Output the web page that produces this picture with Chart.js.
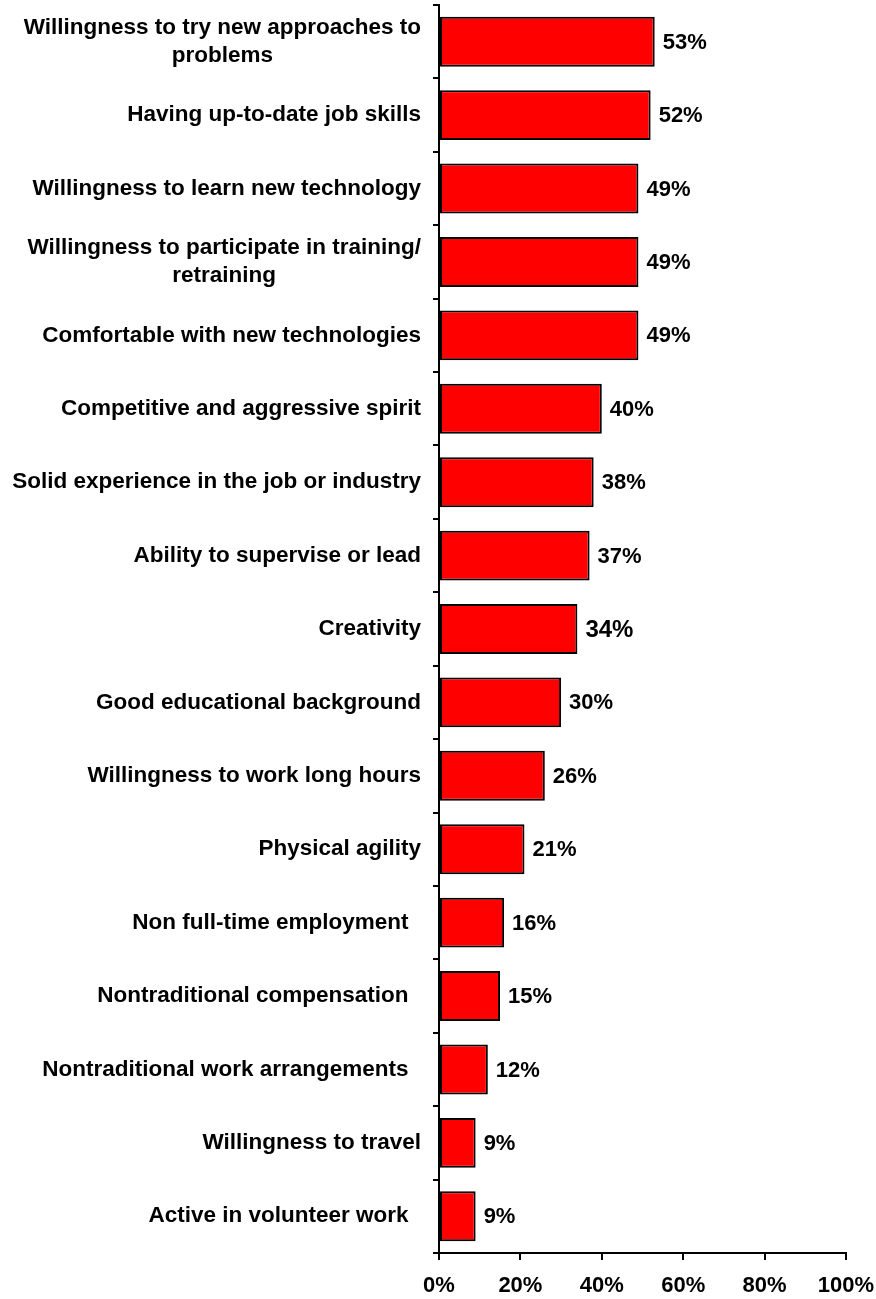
<!DOCTYPE html>
<html>
<head>
<meta charset="utf-8">
<script src="https://cdn.jsdelivr.net/npm/chart.js@4/dist/chart.umd.min.js"></script>
<style>
  html, body { margin: 0; padding: 0; background: #fff; }
  #wrap { width: 876px; height: 1299px; }
</style>
</head>
<body>
<div id="wrap"><canvas id="skills" width="876" height="1299"></canvas></div>
<script>
// Kategórie (viacriadkové popisky ako polia riadkov)
const categories = [
    ['Willingness to try new approaches to', 'problems'],
    'Having up-to-date job skills',
    'Willingness to learn new technology',
    ['Willingness to participate in training/', 'retraining'],
    'Comfortable with new technologies',
    'Competitive and aggressive spirit',
    'Solid experience in the job or industry',
    'Ability to supervise or lead',
    'Creativity',
    'Good educational background',
    'Willingness to work long hours',
    'Physical agility',
    'Non full-time employment  ',
    'Nontraditional compensation  ',
    'Nontraditional work arrangements  ',
    'Willingness to travel',
    'Active in volunteer work  '
];

// Percentá
const shares = [53, 52, 49, 49, 49, 40, 38, 37, 34, 30, 26, 21, 16, 15, 12, 9, 9];

// Osi X
const xTicks = [0, 20, 40, 60, 80, 100];

const FONT = '"Liberation Sans", Arial, sans-serif';

// Popisky kategórií – vycentrované riadky, zarovnané doprava k osi
const categoryLabels = {
    id: 'categoryLabels',
    afterDraw(chart) {
        const ctx = chart.ctx;
        const yScale = chart.scales.y;
        const rightEdge = yScale.right - 18;
        const lineH = 28;
        ctx.save();
        ctx.font = `bold 22.5px ${FONT}`;
        ctx.fillStyle = '#000';
        ctx.textAlign = 'center';
        ctx.textBaseline = 'middle';
        categories.forEach((label, i) => {
            const lines = Array.isArray(label) ? label : [label];
            const maxW = Math.max(...lines.map(l => ctx.measureText(l).width));
            const cx = rightEdge - maxW / 2;
            const cy = yScale.getPixelForValue(i);
            lines.forEach((line, j) => {
                const y = cy + (j - (lines.length - 1) / 2) * lineH;
                ctx.fillText(line, cx, y);
            });
        });
        ctx.restore();
    }
};

// Hodnoty za koncom stĺpcov
const valueLabels = {
    id: 'valueLabels',
    afterDatasetsDraw(chart) {
        const ctx = chart.ctx;
        const meta = chart.getDatasetMeta(0);
        ctx.save();
        ctx.fillStyle = '#000';
        ctx.textAlign = 'left';
        ctx.textBaseline = 'middle';
        meta.data.forEach((bar, i) => {
            // "Creativity" má o niečo väčšie písmo
            ctx.font = `bold ${i === 8 ? 24 : 22}px ${FONT}`;
            ctx.fillText(shares[i] + '%', bar.x + 8, bar.y + 1);
        });
        ctx.restore();
    }
};

new Chart(document.getElementById('skills').getContext('2d'), {
    type: 'bar',
    data: {
        labels: categories,
        datasets: [{
            data: shares,
            backgroundColor: '#ff0000',
            borderColor: '#000',
            borderWidth: 2,
            borderSkipped: false,
            categoryPercentage: 1,
            barPercentage: 0.68
        }]
    },
    options: {
        indexAxis: 'y',
        responsive: false,
        animation: false,
        layout: { padding: { top: 5, right: 30, left: 0, bottom: 0 } },
        plugins: {
            legend: { display: false },
            tooltip: { enabled: false }
        },
        scales: {
            x: {
                min: 0,
                max: 100,
                afterBuildTicks: (scale) => { scale.ticks = xTicks.map(v => ({ value: v })); },
                afterFit: (scale) => {
                    scale.height = 46;
                    // bez automatického odsadenia kvôli "100%"
                    scale.paddingLeft = 0;
                    scale.paddingRight = 0;
                },
                border: { display: true, color: '#000', width: 2 },
                grid: {
                    drawOnChartArea: false,
                    drawTicks: true,
                    tickLength: 7,
                    color: '#000',
                    lineWidth: 2
                },
                ticks: {
                    padding: 13,
                    color: '#000',
                    font: { family: FONT, size: 22, weight: 'bold' },
                    callback: v => v + '%'
                }
            },
            y: {
                afterFit: (scale) => { scale.width = 439; },
                border: { display: true, color: '#000', width: 2 },
                grid: {
                    offset: true,
                    drawOnChartArea: false,
                    drawTicks: true,
                    tickLength: 6,
                    color: '#000',
                    lineWidth: 2
                },
                ticks: { display: false }
            }
        }
    },
    plugins: [categoryLabels, valueLabels]
});
</script>
</body>
</html>
